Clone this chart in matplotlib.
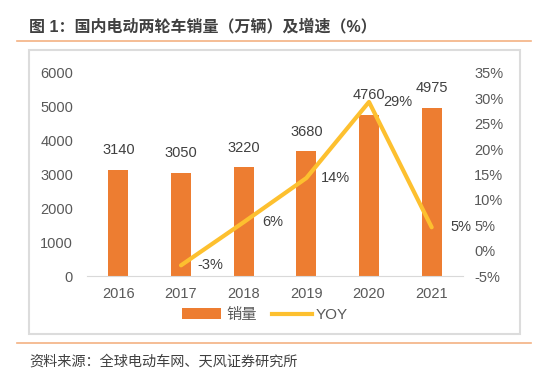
import matplotlib
matplotlib.use("Agg")
from matplotlib import pyplot as plt
from matplotlib.patches import Rectangle
from matplotlib.lines import Line2D

plt.rcParams['font.family'] = ['Liberation Sans', 'Noto Sans CJK SC']

years = ['2016', '2017', '2018', '2019', '2020', '2021']
sales = [3140, 3050, 3220, 3680, 4760, 4975]
yoy_years = ['2017', '2018', '2019', '2020', '2021']
yoy = [-2.9, 5.6, 14.3, 29.3, 4.6]
left_ticks = [0, 1000, 2000, 3000, 4000, 5000, 6000]
right_ticks = [-5, 0, 5, 10, 15, 20, 25, 30, 35]

bar_color = '#ED7D31'
line_color = '#FDC02F'
text_gray = '#595959'

fig = plt.figure(figsize=(5.52, 3.79), dpi=100)

# title and frame decorations
fig.text(29/552, 1-26/379, '图 1：国内电动两轮车销量（万辆）及增速（%）', fontsize=11.5,
         fontweight='bold', color='#404040', va='center', ha='left')
fig.add_artist(Line2D([17/552, 531/552], [1-41/379, 1-41/379], color='#F4B183', lw=1.2))
fig.add_artist(Line2D([17/552, 531/552], [1-343/379, 1-343/379], color='#F4B183', lw=1.2))
fig.add_artist(Rectangle((29/552, 1-334/379), 491/552, 284/379, fill=False,
                         edgecolor='#DCDCDC', lw=1.5))
fig.text(29/552, 1-362/379, '资料来源：全球电动车网、天风证券研究所', fontsize=10.2,
         color='#404040', va='center', ha='left')

ax = fig.add_axes([87/552, 1-276/379, 376/552, 203/379])
x = list(range(len(years)))
bars = ax.bar(x, sales, width=0.32, color=bar_color, label='销量', zorder=2)
for xi, v in zip(x, sales):
    ax.annotate(str(v), (xi, v), xytext=(0, 9), textcoords='offset points',
                ha='center', va='bottom', fontsize=10.5, color='#404040')
ax.set_ylim(0, 6000)
ax.set_xlim(-0.5, len(years) - 0.5)
ax.set_yticks(left_ticks)
ax.set_xticks(x)
ax.set_xticklabels(years)
for s in ['top', 'right', 'left']:
    ax.spines[s].set_visible(False)
ax.spines['bottom'].set_color('#D9D9D9')
ax.tick_params(axis='both', length=0, labelsize=10.5, colors=text_gray)
ax.tick_params(axis='y', pad=10)
ax.tick_params(axis='x', pad=8)

ax2 = ax.twinx()
xl = [years.index(y) for y in yoy_years]
ax2.plot(xl, yoy, color=line_color, lw=3, label='YOY', solid_capstyle='round', zorder=3)
for xi, v in zip(xl, yoy):
    ax2.annotate(f'{v:.0f}%', (xi, v), xytext=(21, 0), textcoords='offset points',
                 ha='center', va='center', fontsize=10.5, color='#404040')
ax2.set_ylim(-5, 35)
ax2.set_yticks(right_ticks)
ax2.set_yticklabels([f'{t}%' for t in right_ticks])
for s in ['top', 'right', 'left', 'bottom']:
    ax2.spines[s].set_visible(False)
ax2.tick_params(axis='y', length=0, labelsize=10.5, colors=text_gray, pad=8)

handles = [bars, Line2D([], [], color=line_color, lw=3)]
fig.legend(handles, ['销量', 'YOY'], loc='center', bbox_to_anchor=(265/552, 1-315/379),
           ncol=2, frameon=False, fontsize=11, labelcolor=text_gray,
           handlelength=2.6, handletextpad=0.3, columnspacing=1.0)

fig.savefig('out.png', dpi=100)
